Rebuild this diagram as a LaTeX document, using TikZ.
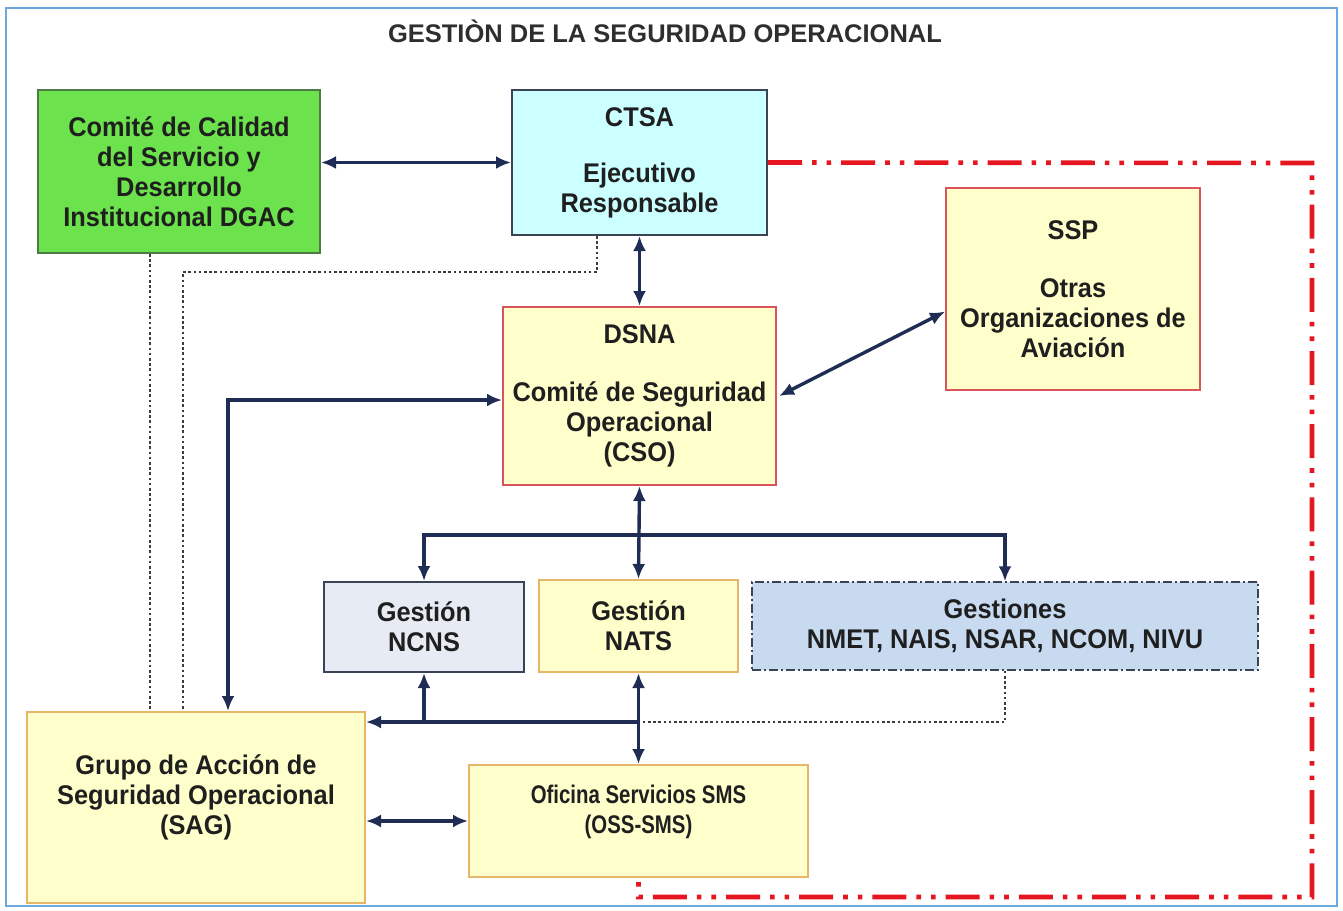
\documentclass[tikz,border=0pt]{standalone}
\usepackage{fontspec}
\setmainfont{Liberation Sans}
\newfontfamily\narrowfont{Liberation Sans}[FakeStretch=0.94]
\newfontfamily\thinfont{Liberation Sans}[FakeStretch=0.8]
\usetikzlibrary{positioning,calc,arrows.meta}

\definecolor{navyline}{HTML}{1F2D55}
\definecolor{framblue}{HTML}{6FA8DC}
\definecolor{greenfill}{HTML}{6CE24C}
\definecolor{greenedge}{HTML}{4E7A45}
\definecolor{cyanfill}{HTML}{CCFFFF}
\definecolor{slateedge}{HTML}{3A4456}
\definecolor{yelfill}{HTML}{FFFFCC}
\definecolor{rededge}{HTML}{D9545C}
\definecolor{tanedge}{HTML}{E6B66A}
\definecolor{greyfill}{HTML}{E6EBF4}
\definecolor{bluefill}{HTML}{C8DAEF}
\definecolor{redloop}{HTML}{E5161F}
\definecolor{dotgrey}{HTML}{3C3C3C}

\begin{document}
\begin{tikzpicture}[x=1pt,y=-1pt,
    box/.style={draw, line width=2pt, inner sep=0pt, align=center,
      font=\narrowfont\bfseries\fontsize{27}{30}\selectfont, text=black!88},
    dbl/.style={navyline, line width=3.4pt, {Latex[length=15pt,width=13pt]}-{Latex[length=15pt,width=13pt]}},
    arr/.style={navyline, line width=3.4pt, -{Latex[length=15pt,width=13pt]}},
    dotline/.style={dotgrey, line width=2.6pt, dash pattern=on 2.6pt off 2.6pt},
    loopline/.style={redloop, line width=4.6pt,
      dash pattern=on 34pt off 10pt on 4.6pt off 10pt on 4.6pt off 10pt}]
    \useasboundingbox (0,0) rectangle (1343,910);
    % outer frame and title
    \draw[framblue, line width=2pt] (6,8) rectangle (1337,906);
    \node[font=\bfseries\fontsize{25.5}{28}\selectfont, text=black!82] (title) at (665,31) {GESTIÒN DE LA SEGURIDAD OPERACIONAL};

    % boxes
    \node[box, fill=greenfill, draw=greenedge, minimum width=282pt, minimum height=163pt] (cal) at (179,171.5)
      {Comité de Calidad\\del Servicio y\\Desarrollo\\Institucional DGAC};
    \node[box, fill=cyanfill, draw=slateedge, minimum width=255pt, minimum height=145pt] (ctsa) at (639.5,162.5)
      {CTSA\\[26pt]Ejecutivo\\Responsable};
    \node[box, fill=yelfill, draw=rededge, minimum width=273pt, minimum height=178pt] (dsna) at (639.5,396)
      {DSNA\\[28pt]Comité de Seguridad\\Operacional\\(CSO)};
    \node[box, fill=yelfill, draw=rededge, minimum width=254pt, minimum height=202pt] (ssp) at (1073,289)
      {SSP\\[28pt]Otras\\Organizaciones de\\Aviación};
    \node[box, fill=greyfill, draw=slateedge, minimum width=200pt, minimum height=90pt] (ncns) at (424,627)
      {Gestión\\NCNS};
    \node[box, fill=yelfill, draw=tanedge, minimum width=199pt, minimum height=92pt] (nats) at (638.5,626)
      {Gestión\\NATS};
    \node[box, fill=bluefill, draw=slateedge, line width=1.5pt, dash pattern=on 9pt off 3pt on 2pt off 3pt,
      minimum width=506pt, minimum height=88pt] (gest) at (1005,626)
      {Gestiones\\NMET, NAIS, NSAR, NCOM, NIVU};
    \node[box, fill=yelfill, draw=tanedge, minimum width=338pt, minimum height=191pt] (sag) at (196,807.5)
      {Grupo de Acción de\\Seguridad Operacional\\(SAG)\\[-4pt]};
    \node[box, fill=yelfill, draw=tanedge, minimum width=339pt, minimum height=112pt,
      font=\thinfont\bfseries\fontsize{25.5}{30}\selectfont] (oss) at (638.5,821)
      {Oficina Servicios SMS\\(OSS-SMS)\\[-6pt]};

    % helper points
    \coordinate (busT) at (0,535);
    \coordinate (busB) at (0,722);
    \coordinate (sagUp) at (228,400);
    \coordinate (dotA) at (597,272);
    \coordinate (dotB) at (183,272);
    \coordinate (dotC) at (150,300);
    \coordinate (rTop) at (1312,163);
    \coordinate (rBot) at (1312,897);

    % dotted links
    \draw[dotline] (cal.south -| dotC) -- (sag.north -| dotC);
    \draw[dotline] (ctsa.south -| dotA) -- (dotA) -- (dotB) -- (sag.north -| dotB);
    \draw[dotline] (gest.south) |- (nats.south |- busB);

    % red dash-dot loop
    \draw[loopline] (ctsa.east) -- (rTop) -- (rBot) -| (oss.south);

    % solid links
    \draw[dbl] (cal.east |- ctsa) -- (ctsa.west);
    \draw[dbl] (ctsa.south) -- (dsna.north);
    \draw[dbl] ($(dsna.east)+(2,0)$) -- (ssp.190);
    \draw[dbl] (sag.north -| sagUp) -- (sagUp) -- (dsna.west |- sagUp);
    \draw[dbl] (dsna.south) -- (nats.north);
    \draw[arr] (dsna.south |- busT) -| (ncns.north);
    \draw[arr] (dsna.south |- busT) -| (gest.north);
    \draw[arr] (nats.south |- busB) -- (sag.east |- busB);
    \draw[arr] (ncns.south |- busB) -- (ncns.south);
    \draw[dbl] (nats.south) -- (oss.north);
    \draw[dbl] (sag.east |- oss) -- (oss.west);
\end{tikzpicture}
\end{document}
